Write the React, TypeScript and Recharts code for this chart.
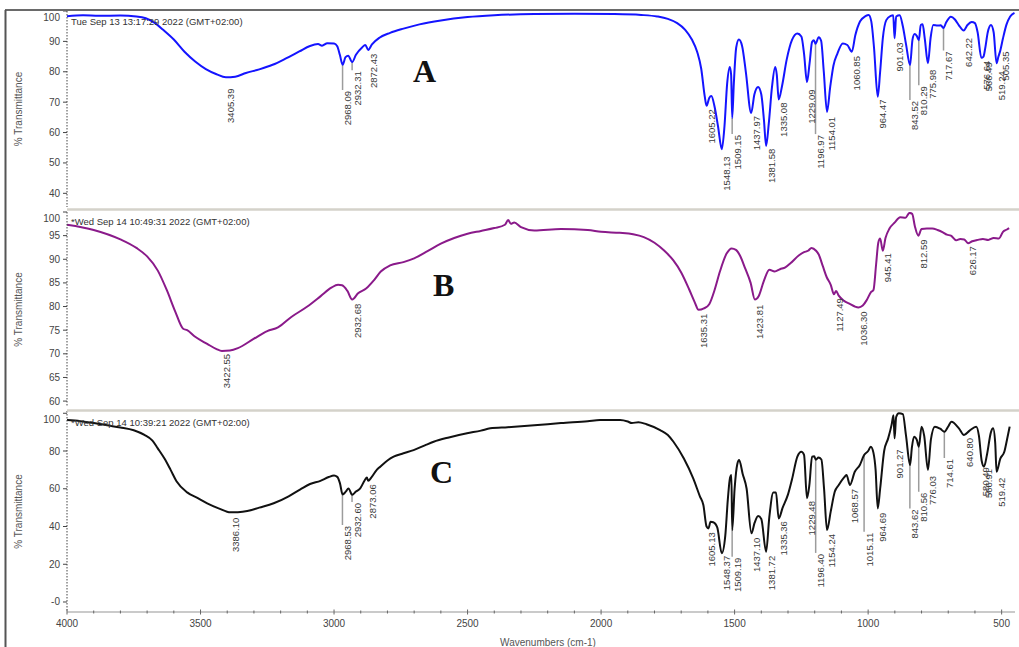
import React from "react";
import { ComposedChart, Line, Scatter, XAxis, YAxis, ReferenceLine } from "recharts";

// [wavenumber cm-1, %T]
const spectrumA: [number, number][] = [
  [4000, 98.3], [3940, 98.6], [3880, 98.4], [3800, 98.5], [3740, 98.2], [3705, 97.6], [3670, 96],
  [3640, 93.8], [3600, 90.6], [3560, 86.6], [3520, 83.4], [3480, 80.9], [3440, 79.2], [3405, 78.2],
  [3370, 78.4], [3330, 79.6], [3280, 80.8], [3230, 82.3], [3180, 84.4], [3130, 86.7], [3090, 88.5],
  [3060, 89.1], [3045, 88.6], [3025, 89.4], [3000, 89.3], [2988, 88.4], [2978, 85.5], [2968, 82.3],
  [2957, 84.8], [2947, 85.3], [2932, 83.2], [2918, 85.6], [2895, 88], [2883, 88.8], [2872, 87.2],
  [2858, 89], [2830, 91.2], [2790, 92.8], [2740, 94.2], [2680, 95.6], [2600, 96.9], [2500, 98],
  [2400, 98.6], [2250, 99], [2100, 99.1], [1950, 99], [1850, 98.7], [1790, 98.2], [1750, 97.4],
  [1715, 96], [1685, 93.8], [1660, 90.6], [1640, 86.5], [1625, 81], [1612, 72], [1605, 68.8],
  [1595, 71.4], [1587, 72], [1575, 68.5], [1562, 62], [1548, 54.5], [1538, 62], [1528, 76],
  [1518, 81.6], [1513, 79], [1509, 64.8], [1503, 76], [1494, 88], [1484, 90.6], [1472, 88.5],
  [1458, 80], [1438, 66.4], [1426, 72.5], [1412, 75], [1400, 72.5], [1390, 64], [1382, 55.6],
  [1372, 63], [1360, 75], [1348, 81.6], [1342, 79], [1335, 70.9], [1322, 75.5], [1305, 84],
  [1285, 90.5], [1265, 92.6], [1250, 91.6], [1240, 86], [1229, 76.6], [1219, 83], [1210, 89.8],
  [1203, 90.4], [1197, 89.2], [1185, 91.4], [1176, 90.2], [1166, 80], [1154, 66.8], [1142, 75],
  [1130, 82], [1115, 86], [1095, 89.3], [1078, 88.8], [1061, 86.6], [1048, 92], [1030, 96.6],
  [1010, 98.3], [998, 98.7], [988, 96.5], [978, 88], [964, 71.8], [955, 80], [945, 91], [932, 97],
  [915, 98.4], [906, 98.6], [901, 91], [895, 98.2], [882, 98.6], [870, 95], [858, 89], [843, 82.2],
  [834, 90.5], [826, 92.4], [818, 91.8], [810, 90.4], [803, 95.4], [796, 95.6], [788, 91],
  [776, 82.8], [766, 91.2], [756, 95.4], [740, 95.2], [728, 95.3], [718, 94.4], [708, 96.2],
  [690, 98.1], [675, 97.2], [660, 95.3], [642, 93.6], [628, 95.4], [612, 96.4], [600, 96],
  [590, 93], [576, 84.6], [568, 85], [562, 87.5], [552, 93], [540, 95.4], [530, 93], [519, 82.8],
  [512, 85], [505, 87], [495, 91], [482, 95.5], [468, 98.2], [452, 99.4],
];

const spectrumB: [number, number][] = [
  [4000, 97.3], [3900, 96.2], [3800, 94.2], [3740, 92.4], [3700, 90.6], [3660, 87.6], [3625, 83.3],
  [3595, 79], [3565, 75.3], [3550, 75], [3520, 73.6], [3475, 72.1], [3440, 71], [3420, 70.6],
  [3390, 70.7], [3360, 71.2], [3300, 73.2], [3250, 74.8], [3210, 75.6], [3160, 77.8], [3100, 80],
  [3050, 82.2], [3010, 84], [2985, 84.6], [2970, 84.5], [2950, 83.3], [2932, 81.5], [2910, 82.8],
  [2880, 83.8], [2850, 85.6], [2825, 87.4], [2790, 88.7], [2740, 89.4], [2700, 90.2], [2650, 91.7],
  [2600, 93.3], [2550, 94.5], [2500, 95.4], [2450, 96], [2400, 96.6], [2360, 97.3], [2348, 98.3],
  [2338, 97.5], [2325, 97.8], [2300, 96.8], [2250, 96.1], [2150, 96.4], [2050, 96.2], [2000, 95.8],
  [1930, 95.6], [1880, 95.3], [1840, 94.7], [1800, 93.5], [1765, 91.9], [1730, 89.8], [1700, 87.2],
  [1670, 83.6], [1650, 81], [1635, 79.3], [1615, 79.6], [1595, 80.5], [1575, 83.5], [1555, 87.4],
  [1530, 91.2], [1511, 92.3], [1495, 92], [1480, 90.8], [1460, 88], [1440, 85], [1424, 81.5],
  [1410, 82.2], [1390, 85.5], [1370, 87.8], [1350, 87.4], [1330, 87.9], [1310, 88.3], [1290, 89.2],
  [1260, 90.8], [1240, 91.5], [1225, 91.8], [1212, 92.4], [1195, 91.8], [1185, 91], [1170, 88.6],
  [1155, 86.2], [1140, 84.6], [1128, 82.6], [1120, 83.3], [1110, 82.3], [1090, 81.2], [1070, 80.6],
  [1050, 80], [1036, 79.8], [1020, 80.2], [1005, 81.4], [990, 83], [980, 83.5], [970, 89],
  [962, 93.5], [955, 94.4], [945, 91.8], [935, 94.5], [920, 96.5], [900, 97.8], [880, 98.9],
  [860, 98.8], [845, 99.8], [835, 99.6], [825, 97], [812, 95], [800, 96.4], [780, 96.5], [760, 96.5],
  [740, 96.2], [720, 95.7], [705, 95.2], [690, 95], [670, 94], [655, 94.3], [640, 94.2], [626, 93.4],
  [610, 93.8], [590, 94.1], [570, 94.3], [550, 94.1], [530, 94.5], [510, 94.4], [495, 95.8],
  [480, 96.3], [472, 96.6],
];

const spectrumC: [number, number][] = [
  [4000, 96.4], [3950, 95.8], [3900, 94.8], [3850, 93.6], [3800, 92.5], [3750, 91], [3710, 88.5],
  [3680, 85.5], [3660, 81.4], [3635, 76], [3612, 70], [3590, 64], [3550, 58.1], [3510, 55],
  [3475, 52.3], [3430, 49.5], [3388, 47.5], [3360, 47.6], [3325, 48.2], [3280, 50], [3226, 52.3],
  [3170, 56], [3126, 59.7], [3090, 62.5], [3051, 64.2], [3020, 66.2], [3000, 67], [2988, 66.3],
  [2978, 63], [2968, 57], [2956, 58.5], [2946, 60.2], [2932, 56.8], [2918, 58.5], [2902, 60.2],
  [2885, 64.5], [2877, 65.9], [2872, 64.2], [2860, 66], [2840, 70], [2827, 71.7], [2800, 75],
  [2777, 77], [2740, 78.8], [2702, 80.5], [2660, 83], [2627, 84.9], [2570, 87.2], [2502, 89.4],
  [2450, 90.8], [2415, 92], [2350, 92.6], [2250, 93.6], [2150, 94.8], [2050, 95.8], [2004, 96.4],
  [1929, 96.4], [1900, 95.6], [1885, 94.8], [1860, 95.3], [1830, 94.2], [1779, 91.1], [1750, 88.5],
  [1729, 84.9], [1690, 76], [1655, 65.5], [1630, 56], [1617, 51.4], [1605, 40], [1598, 39],
  [1590, 42.5], [1580, 42.3], [1565, 39.5], [1548, 25.8], [1535, 35], [1525, 55], [1517, 66],
  [1512, 67.3], [1509, 38.1], [1500, 60], [1490, 73], [1483, 75.2], [1470, 68], [1455, 60],
  [1437, 36.4], [1425, 42], [1412, 45.5], [1400, 44], [1382, 26.6], [1370, 45], [1355, 58],
  [1345, 58], [1335, 44.3], [1320, 50], [1300, 57], [1285, 65], [1265, 77], [1250, 79.6],
  [1240, 78], [1229, 55], [1220, 62], [1210, 77], [1202, 77.2], [1196, 75.4], [1186, 76.5],
  [1175, 75.5], [1165, 60], [1154, 38.1], [1140, 48], [1125, 58.4], [1110, 62], [1090, 66],
  [1081, 67.3], [1068, 62], [1050, 69], [1031, 72.6], [1015, 77.9], [1000, 80], [990, 82.3],
  [980, 79], [972, 70], [964, 49.6], [955, 60], [940, 80], [925, 86.7], [912, 94], [905, 99],
  [901, 86.7], [895, 98], [885, 100], [870, 99.5], [858, 88], [843, 72.6], [836, 82], [828, 87.6],
  [818, 86], [810, 82.3], [800, 92.9], [790, 88], [776, 70], [765, 86], [750, 92.9], [730, 91.8],
  [714, 90.2], [700, 93], [688, 95.5], [660, 92], [641, 88.5], [620, 90.8], [595, 92.9], [585, 88],
  [575, 75], [566, 71.7], [555, 78], [540, 90], [532, 92], [524, 84], [519, 69], [505, 76],
  [490, 79.6], [480, 86], [470, 92.9],
];

// peak picks: label, wavenumber, %T where the label starts, %T where a leader line starts (if any)
const peaksA: [string, number, number, number?][] = [
  ["3405.39", 3405.39, 74.8], ["2968.09", 2968.09, 74, 82.3], ["2932.31", 2932.31, 80.5, 83.2],
  ["2872.43", 2872.43, 86.3], ["1605.22", 1605.22, 68], ["1548.13", 1548.13, 52.5],
  ["1509.15", 1509.15, 59.5, 64.8], ["1437.97", 1437.97, 65.8], ["1381.58", 1381.58, 55],
  ["1335.08", 1335.08, 70.2], ["1229.09", 1229.09, 74.5], ["1196.97", 1196.97, 59.5, 89.2],
  ["1154.01", 1154.01, 65.5], ["1060.85", 1060.85, 85.5], ["964.47", 964.47, 71.2],
  ["901.03", 901.03, 90], ["843.52", 843.52, 70.7, 82.2], ["810.29", 810.29, 75.6, 90.4],
  ["775.98", 775.98, 81], ["717.67", 717.67, 87, 94.4], ["642.22", 642.22, 91.5],
  ["576.64", 576.64, 84], ["566.49", 566.49, 83.5], ["519.24", 519.24, 80.5], ["505.35", 505.35, 87],
];

const peaksB: [string, number, number, number?][] = [
  ["3422.55", 3422.55, 70.2], ["2932.68", 2932.68, 80.8], ["1635.31", 1635.31, 78.7],
  ["1423.81", 1423.81, 80.6], ["1127.49", 1127.49, 82], ["1036.30", 1036.3, 79.2],
  ["945.41", 945.41, 91.5], ["812.59", 812.59, 94.4], ["626.17", 626.17, 93],
];

const peaksC: [string, number, number, number?][] = [
  ["3386.10", 3386.1, 45.2], ["2968.53", 2968.53, 40.8, 57], ["2932.60", 2932.6, 53, 56.8],
  ["2873.06", 2873.06, 62.9], ["1605.13", 1605.13, 37.5], ["1548.37", 1548.37, 25],
  ["1509.19", 1509.19, 24, 38.1], ["1437.10", 1437.1, 34.6], ["1381.72", 1381.72, 25],
  ["1335.36", 1335.36, 43.4], ["1229.48", 1229.48, 54], ["1196.40", 1196.4, 26, 75.4],
  ["1154.24", 1154.24, 36.6], ["1068.57", 1068.57, 60.4], ["1015.11", 1015.11, 37.2, 77.9],
  ["964.69", 964.69, 47.8], ["901.27", 901.27, 81.4], ["843.62", 843.62, 49.6, 72.6],
  ["810.56", 810.56, 58.4, 82.3], ["776.03", 776.03, 67.3], ["714.61", 714.61, 76.3, 90.2],
  ["640.80", 640.8, 87.5], ["580.49", 580.49, 72], ["566.91", 566.91, 71], ["519.42", 519.42, 66.4],
];

const xLabelTicks = [4000, 3500, 3000, 2500, 2000, 1500, 1000, 500];
const yTicksA = [40, 50, 60, 70, 80, 90, 100];
const yTicksB = [60, 65, 70, 75, 80, 85, 90, 95, 100];
const yTicksC = [0, 20, 40, 60, 80, 100];

const scanTimes = [
  "Tue Sep 13 13:17:29 2022 (GMT+02:00)",
  "*Wed Sep 14 10:49:31 2022 (GMT+02:00)",
  "*Wed Sep 14 10:39:21 2022 (GMT+02:00)",
];
const sampleNames = ["A", "B", "C"];

const W = 1019;
const FONT = "'Liberation Sans', Arial, sans-serif";
const X_DOMAIN: [number, number] = [450, 4000];
// minor x ticks every 100 cm-1 (decoration only)
const xAllTicks = Array.from({ length: 36 }, (_, i) => 500 + i * 100);

const toPoints = (s: [number, number][]) => s.map(([wn, t]) => ({ wn, t }));
const toPeaks = (p: [string, number, number, number?][]) =>
  p.map(([label, wn, t, from]) => ({ label, wn, t, from }));

function YTick({ x, y, payload }: any) {
  const v = payload.value;
  return (
    <g>
      <line x1={x + 3} x2={x + 7} y1={y} y2={y} stroke="#444" />
      <text x={x} y={v === 100 ? y + 6 : y} textAnchor="end" dominantBaseline="central"
        fontSize={10} fill="#444" fontFamily={FONT}>
        {v === 0 ? "-0" : v}
      </text>
    </g>
  );
}

function XTick({ x, y, payload }: any) {
  const v = payload.value;
  const major = xLabelTicks.includes(v);
  return (
    <g>
      <line x1={x} x2={x} y1={y - (major ? 2.5 : 1.5)} y2={y + (major ? 2.5 : 1.5)} stroke="#666" />
      {major && (
        <text x={x} y={y + 11} textAnchor="middle" dominantBaseline="central"
          fontSize={10} fill="#444" fontFamily={FONT}>{v}</text>
      )}
    </g>
  );
}

function PeakLabel(props: any) {
  const { cx, cy, payload } = props;
  if (cx == null || cy == null) return null;
  const tx = cx + 5;
  const ty = cy + 1;
  return (
    <text x={tx} y={ty} transform={`rotate(-90 ${tx} ${ty})`} textAnchor="end"
      dominantBaseline="central" fontSize={9.5} fill="#3a3a3a" fontFamily={FONT}>
      {payload.label}
    </text>
  );
}

function YTitle({ viewBox }: any) {
  const cy = viewBox.y + viewBox.height / 2;
  return (
    <text x={18} y={cy} transform={`rotate(-90 18 ${cy})`} textAnchor="middle"
      dominantBaseline="central" fontSize={10} fill="#555" fontFamily={FONT}>
      % Transmittance
    </text>
  );
}

function XTitle({ viewBox }: any) {
  return (
    <text x={viewBox.x + viewBox.width / 2 + 7} y={viewBox.y + 30} textAnchor="middle"
      dominantBaseline="central" fontSize={10} fill="#555" fontFamily={FONT}>
      Wavenumbers (cm-1)
    </text>
  );
}

interface PanelProps {
  spectrum: [number, number][];
  peaks: [string, number, number, number?][];
  color: string;
  top: number;
  height: number;
  marginTop: number;
  yDomain: [number, number];
  yTicks: number[];
  showX?: boolean;
}

function Panel({ spectrum, peaks, color, top, height, marginTop, yDomain, yTicks, showX }: PanelProps) {
  const pts = toPoints(spectrum);
  const pk = toPeaks(peaks);
  return (
    <div style={{ position: "absolute", left: 0, top }}>
      <ComposedChart width={W} height={height} margin={{ top: marginTop, right: 4, bottom: showX ? 0 : 3, left: 0 }}>
        <XAxis
          type="number"
          dataKey="wn"
          domain={X_DOMAIN}
          reversed
          allowDataOverflow
          hide={!showX}
          height={35}
          ticks={xAllTicks}
          interval={0}
          tick={<XTick />}
          tickLine={false}
          tickSize={0}
          tickMargin={0}
          axisLine={{ stroke: "#b8b8b8", strokeWidth: 1.5 }}
          label={showX ? { content: <XTitle /> } : undefined}
        />
        <YAxis
          type="number"
          domain={yDomain}
          allowDataOverflow
          ticks={yTicks}
          interval={0}
          width={67}
          tick={<YTick />}
          tickLine={false}
          tickSize={4}
          tickMargin={3}
          axisLine={{ stroke: "#444", strokeDasharray: "1.5 1.5" }}
          label={{ content: <YTitle /> }}
        />
        {pk.filter((p) => p.from != null).map((p) => (
          <ReferenceLine
            key={p.label}
            segment={[{ x: p.wn, y: p.from as number }, { x: p.wn, y: p.t }]}
            stroke="#9c9c9c"
            strokeWidth={1.5}
          />
        ))}
        <Line
          data={pts}
          dataKey="t"
          type="monotoneX"
          stroke={color}
          strokeWidth={2}
          dot={false}
          isAnimationActive={false}
        />
        <Scatter data={pk} dataKey="t" shape={(p: any) => <PeakLabel {...p} />} isAnimationActive={false} />
      </ComposedChart>
    </div>
  );
}

export default function App() {
  return (
    <div style={{ position: "absolute", left: 0, top: 0, width: W, height: 647, background: "#fff", overflow: "hidden" }}>
      <Panel spectrum={spectrumA} peaks={peaksA} color="#1414ff" top={0} height={210} marginTop={11}
        yDomain={[35.5, 100]} yTicks={yTicksA} />
      <Panel spectrum={spectrumB} peaks={peaksB} color="#8a1a8a" top={210} height={200} marginTop={2}
        yDomain={[58.75, 100]} yTicks={yTicksB} />
      <Panel spectrum={spectrumC} peaks={peaksC} color="#111" top={410} height={237} marginTop={1}
        yDomain={[-5.3, 101.2]} yTicks={yTicksC} showX />
      <svg width={W} height={647} style={{ position: "absolute", left: 0, top: 0, pointerEvents: "none" }}>
        <line x1={5} y1={10} x2={W} y2={10} stroke="#6a6a6a" strokeWidth={2} />
        <line x1={5.5} y1={10} x2={5.5} y2={647} stroke="#555" strokeWidth={2} />
        <line x1={67} y1={209.5} x2={W} y2={209.5} stroke="#d4d2ca" strokeWidth={2.5} />
        <line x1={67} y1={410.5} x2={W} y2={410.5} stroke="#d4d2ca" strokeWidth={2.5} />
        {[21, 221, 422].map((y, i) => (
          <text key={i} x={71} y={y} dominantBaseline="central" fontSize={9.5} fill="#333" fontFamily={FONT}>
            {scanTimes[i]}
          </text>
        ))}
        {[[413, 82], [433, 296], [430, 483]].map(([x, y], i) => (
          <text key={i} x={x} y={y} fontSize={32} fontWeight="bold" fill="#111"
            fontFamily="'Liberation Serif', 'Times New Roman', serif">
            {sampleNames[i]}
          </text>
        ))}
      </svg>
    </div>
  );
}
